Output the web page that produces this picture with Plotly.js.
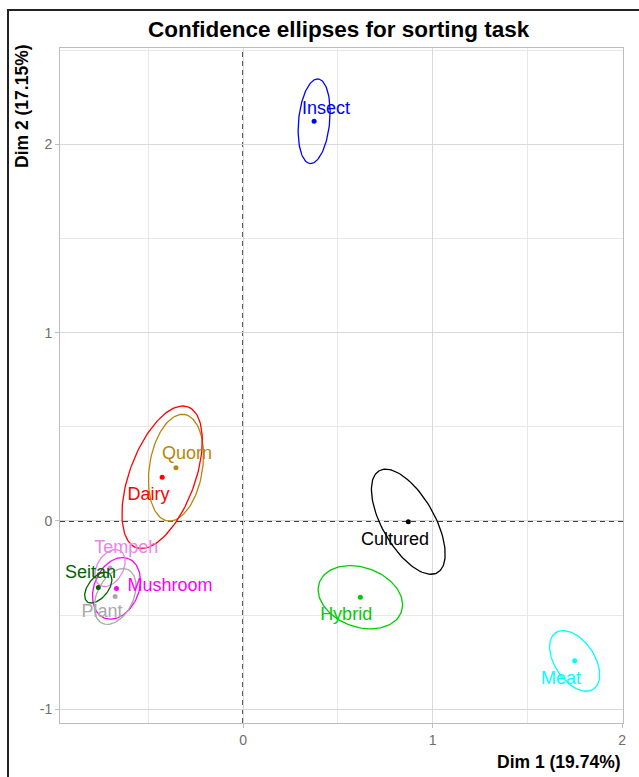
<!DOCTYPE html>
<html><head><meta charset="utf-8">
<script src="https://cdn.plot.ly/plotly-3.0.1.min.js"></script>
<style>html,body{margin:0;padding:0;background:#fff}</style>
</head><body><div id="chart" style="width:639px;height:777px"></div>
<script>
// ---- data ----
const groups   = ["Insect","Quorn","Dairy","Cultured","Hybrid","Meat","Mushroom","Tempeh","Seitan","Plant"];
const colors   = ["#0000FF","#B8860B","#FF0000","#000000","#00CD00","#00FFFF","#FF00FF","#EE82EE","#006400","#A9A9A9"];
const dim1     = [0.375,-0.354,-0.427,0.872,0.619,1.750,-0.668,-0.702,-0.764,-0.675];
const dim2     = [2.123,0.283,0.232,-0.004,-0.405,-0.743,-0.358,-0.250,-0.354,-0.401];
// confidence ellipse: semi-axes (data units) and orientation (degrees)
const ellA     = [0.226,0.286,0.398,0.311,0.230,0.180,0.170,0.106,0.095,0.158];
const ellB     = [0.082,0.140,0.173,0.138,0.158,0.105,0.118,0.069,0.053,0.096];
const ellAngle = [84.6,81,70,119.5,-20,123.4,68,60,52,64.5];
// label anchor positions (data units)
const labelX   = [0.438,-0.296,-0.499,0.802,0.544,1.678,-0.385,-0.616,-0.805,-0.744];
const labelY   = [2.188,0.351,0.133,-0.105,-0.503,-0.841,-0.349,-0.145,-0.278,-0.487];
const xTicks   = [0,1,2];
const yTicks   = [-1,0,1,2];
const titleText = "Confidence ellipses for sorting task";
const xTitle = "Dim 1 (19.74%)";
const yTitle = "Dim 2 (17.15%)";

const FONT = "Liberation Sans, Arial, sans-serif";

function ellipse(i){
  const xs=[], ys=[], N=120, th=ellAngle[i]*Math.PI/180;
  for(let k=0;k<=N;k++){
    const t=2*Math.PI*k/N;
    const u=ellA[i]*Math.cos(t), v=ellB[i]*Math.sin(t);
    xs.push(dim1[i]+u*Math.cos(th)-v*Math.sin(th));
    ys.push(dim2[i]+u*Math.sin(th)+v*Math.cos(th));
  }
  return {x:xs,y:ys};
}

const traces=[];
groups.forEach((g,i)=>{
  const e=ellipse(i);
  traces.push({type:'scatter',mode:'lines',x:e.x,y:e.y,line:{color:colors[i],width:1.3},hoverinfo:'skip',showlegend:false});
});
groups.forEach((g,i)=>{
  traces.push({type:'scatter',mode:'markers',x:[dim1[i]],y:[dim2[i]],marker:{color:colors[i],size:5},name:g,showlegend:false});
});
groups.forEach((g,i)=>{
  traces.push({type:'scatter',mode:'text',x:[labelX[i]],y:[labelY[i]],text:[g],textposition:'middle center',
    textfont:{family:FONT,size:18,color:colors[i]},hoverinfo:'skip',showlegend:false});
});

const L=60, R=16, T=48, B=54, W=639, H=777;
const pw=W-L-R, ph=H-T-B;
const px2x = p => (p-L)/pw;
const py2y = p => (H-B-p)/ph;

const axisCommon = {
  showgrid:true, gridcolor:'#d9d9d9', gridwidth:1,
  zeroline:false, showline:true, mirror:true, linecolor:'#bdbdbd', linewidth:1,
  ticks:'outside', ticklen:4, tickcolor:'#bdbdbd', tickwidth:1,
  tickfont:{family:FONT,size:14,color:'#6e6e6e'},
  minor:{dtick:0.5, tick0:0, showgrid:true, gridcolor:'#e8e8e8', gridwidth:1, ticks:''},
  fixedrange:true
};

const layout = {
  width:W, height:H,
  margin:{l:L,r:R,t:T,b:B,pad:0},
  paper_bgcolor:'#ffffff', plot_bgcolor:'#ffffff',
  showlegend:false,
  title:{text:'<b>'+titleText+'</b>', font:{family:FONT,size:22.5,color:'#000'},
    xref:'paper', x:0.495, xanchor:'center', yref:'container', y:1-29/H, yanchor:'middle'},
  xaxis:Object.assign({}, axisCommon, {range:[-0.966,2.005], tickmode:'array', tickvals:xTicks, ticktext:xTicks.map(String)}),
  yaxis:Object.assign({}, axisCommon, {range:[-1.073,2.512], tickmode:'array', tickvals:yTicks, ticktext:yTicks.map(String)}),
  shapes:[
    {type:'line',xref:'x',yref:'paper',x0:0,x1:0,y0:0,y1:1,line:{color:'#000',width:1.4,dash:'5px,4px'},layer:'between'},
    {type:'line',xref:'paper',yref:'y',x0:0,x1:1,y0:0,y1:0,line:{color:'#000',width:1.4,dash:'5px,4px'},layer:'between'},
    {type:'rect',xref:'paper',yref:'paper',x0:px2x(8),x1:px2x(720),y0:py2y(860),y1:py2y(10),line:{color:'#222',width:2},fillcolor:'rgba(0,0,0,0)',layer:'above'}
  ],
  annotations:[
    {text:'<b>'+xTitle+'</b>', xref:'paper', yref:'paper', x:1, y:py2y(762), xanchor:'right', yanchor:'middle',
     showarrow:false, font:{family:FONT,size:17.5,color:'#000'}},
    {text:'<b>'+yTitle+'</b>', xref:'paper', yref:'paper', x:px2x(22), y:py2y(42), xanchor:'center', yanchor:'top',
     textangle:-90, showarrow:false, font:{family:FONT,size:17.5,color:'#000'}}
  ]
};

Plotly.newPlot('chart', traces, layout, {displayModeBar:false, staticPlot:true});
</script>
</body></html>
